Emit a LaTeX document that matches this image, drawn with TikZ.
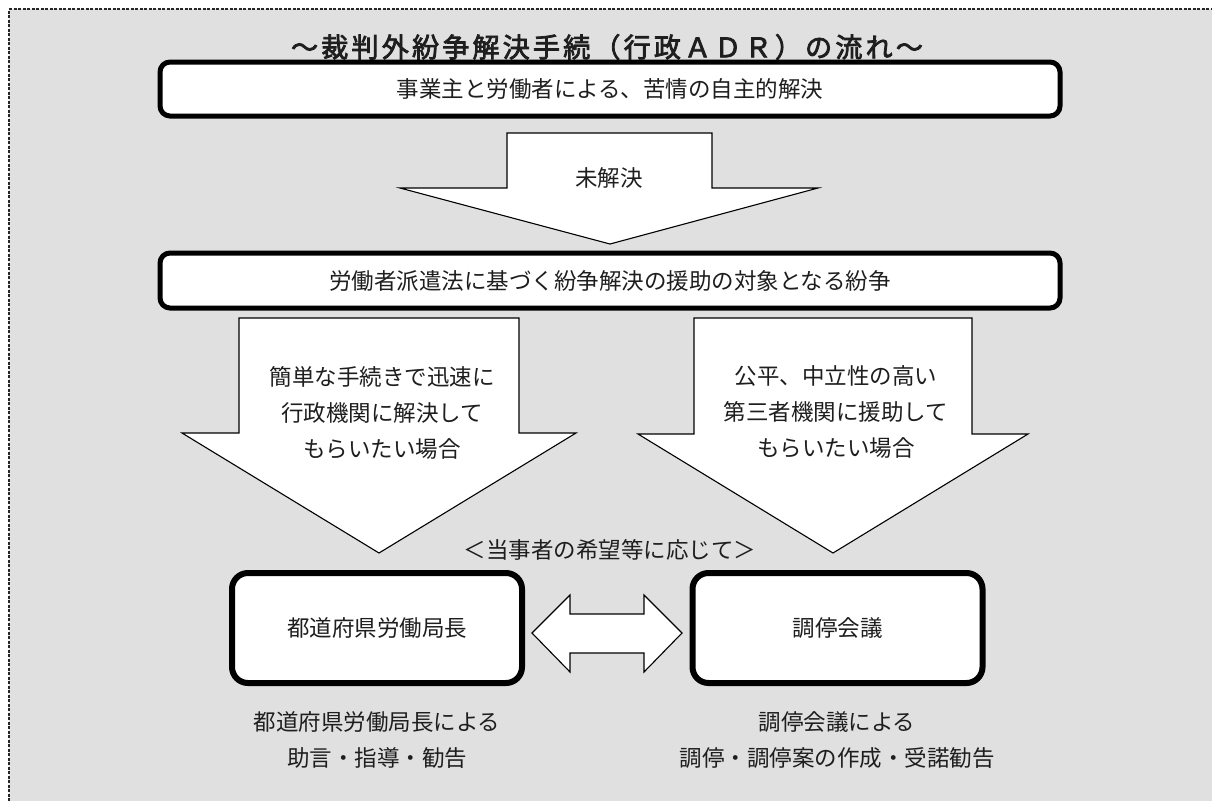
\documentclass[tikz,border=0pt]{standalone}
\usepackage{fontspec}
\setmainfont{Noto Sans CJK JP}
\newfontfamily\titlefont[LetterSpace=12,FakeBold=2.8]{Noto Sans CJK JP}
\definecolor{bggray}{RGB}{224,224,224}
\definecolor{txtcol}{RGB}{30,30,30}
\begin{document}
\begin{tikzpicture}[x=1pt,y=-1pt,
  mainbox/.style={draw, line width=5pt, rounded corners=10pt, fill=white, inner sep=0pt,
    font=\fontsize{22.5}{36}\selectfont, text=txtcol},
  endbox/.style={draw, line width=6pt, rounded corners=16pt, fill=white, inner sep=0pt,
    minimum width=290pt, minimum height=110pt, font=\fontsize{22.5}{36}\selectfont, text=txtcol},
  blockarrow/.style={draw, line width=1.1pt, fill=white, line join=miter},
  txt/.style={font=\fontsize{22.5}{36}\selectfont, align=center, inner sep=0pt, text=txtcol}]
\useasboundingbox (0,0) rectangle (1212,801);
\fill[bggray] (9,9) rectangle (1212,801);
\draw[line width=1.1pt, dash pattern=on 3pt off 1.5pt, black!85] (9,801) -- (9,9) -- (1212,9);

% title
\node[inner sep=0pt, font=\titlefont\fontsize{27}{30}\selectfont, text=txtcol] (title) at (607,47) {～裁判外紛争解決手続（行政ＡＤＲ）の流れ～};

% main boxes
\node[mainbox, minimum width=900pt, minimum height=54pt] (b1) at (610,89) {事業主と労働者による、苦情の自主的解決};
\node[mainbox, minimum width=900pt, minimum height=55pt] (b2) at (610,280.5) {労働者派遣法に基づく紛争解決の援助の対象となる紛争};

% bottom boxes
\node[endbox] (kyoku) at (377,628) {都道府県労働局長};
\node[endbox] (chotei) at (837.5,628) {調停会議};

% arrow 1
\draw[blockarrow] (507,133) -- (712,133) -- (712,188) -- (818,188) -- (610,244) -- (400,188) -- (507,188) -- cycle;
\node[txt] (a1) at (609,178) {未解決};

% left arrow
\draw[blockarrow] (239,318) -- (519,318) -- (519,433) -- (576,433) -- (379,553) -- (182,433) -- (239,433) -- cycle;
\node[txt] (a2) at (382,413) {簡単な手続きで迅速に\\行政機関に解決して\\もらいたい場合};

% right arrow
\draw[blockarrow] (694,318) -- (972,318) -- (972,434) -- (1028,434) -- (833,553) -- (638,434) -- (694,434) -- cycle;
\node[txt] (a3) at (836,412) {公平、中立性の高い\\第三者機関に援助して\\もらいたい場合};

% middle label
\node[txt] (mid) at (610,550) {＜当事者の希望等に応じて＞};

% double arrow between bottom boxes
\draw[blockarrow] (532,633) -- (570,595) -- (570,614) -- (644,614) -- (644,595) -- (682,633) -- (644,672) -- (644,653) -- (570,653) -- (570,672) -- cycle;

% bottom texts
\node[txt] (t1) at (377,740) {都道府県労働局長による\\助言・指導・勧告};
\node[txt] (t2) at (837,740) {調停会議による\\調停・調停案の作成・受諾勧告};
\end{tikzpicture}
\end{document}
